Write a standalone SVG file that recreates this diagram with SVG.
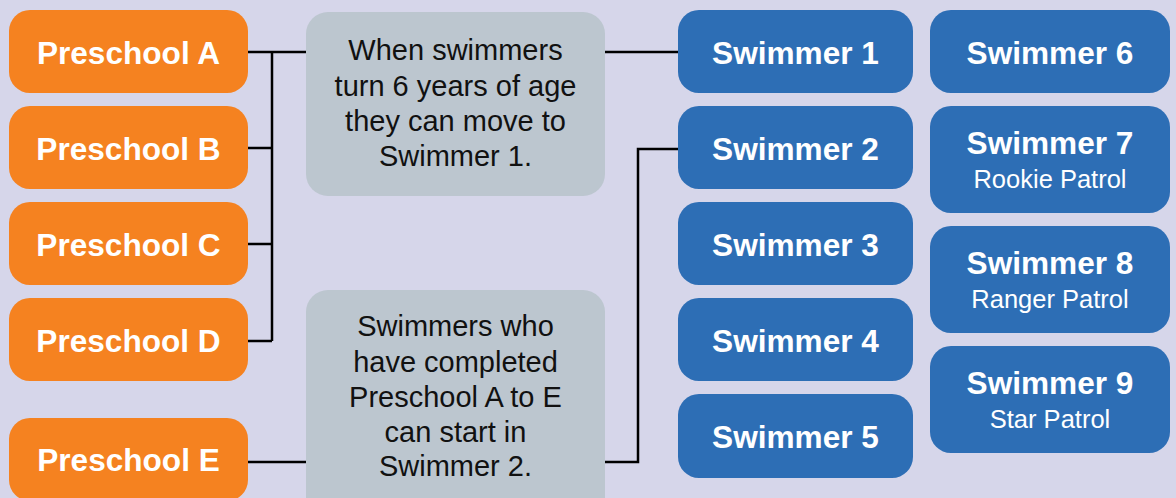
<svg xmlns="http://www.w3.org/2000/svg" width="1176" height="498" viewBox="0 0 1176 498">
<style>
.bg{fill:#D6D6EA}
.pre{fill:#F58220}
.swm{fill:#2D6EB5}
.note{fill:#BCC6CF}
.t{font-family:"Liberation Sans",Arial,Helvetica,sans-serif;text-anchor:middle}
.tb{font-weight:bold;font-size:31.6px;fill:#fff}
.ts{font-size:25.5px;fill:#fff}
.tn{font-size:29px;fill:#111}
.c{fill:none;stroke:#000;stroke-width:2.5}
</style>
<rect class="bg" x="0" y="0" width="1176" height="498"/>
<g id="connectors">
<path class="c" d="M248 52H306"/>
<path class="c" d="M272 52V341"/>
<path class="c" d="M248 148H272M248 244H272M248 341H272"/>
<path class="c" d="M248 462H306"/>
<path class="c" d="M605 52H678"/>
<path class="c" d="M605 462H638V149H678"/>
</g>
<g id="preschoolA"><rect class="pre" x="9" y="10" width="239" height="83" rx="21"/><text class="t tb" x="128.5" y="64">Preschool A</text></g>
<g id="preschoolB"><rect class="pre" x="9" y="106" width="239" height="83" rx="21"/><text class="t tb" x="128.5" y="160">Preschool B</text></g>
<g id="preschoolC"><rect class="pre" x="9" y="202" width="239" height="83" rx="21"/><text class="t tb" x="128.5" y="256">Preschool C</text></g>
<g id="preschoolD"><rect class="pre" x="9" y="298" width="239" height="83" rx="21"/><text class="t tb" x="128.5" y="352">Preschool D</text></g>
<g id="preschoolE"><rect class="pre" x="9" y="418" width="239" height="83" rx="21"/><text class="t tb" x="128.5" y="471">Preschool E</text></g>
<g id="note1"><rect class="note" x="306" y="12" width="299" height="184" rx="22"/>
<text class="t tn" x="455.5" y="60">When swimmers</text>
<text class="t tn" x="455.5" y="95.5">turn 6 years of age</text>
<text class="t tn" x="455.5" y="131">they can move to</text>
<text class="t tn" x="455.5" y="166">Swimmer 1.</text></g>
<g id="note2"><rect class="note" x="306" y="290" width="299" height="230" rx="22"/>
<text class="t tn" x="455.5" y="336">Swimmers who</text>
<text class="t tn" x="455.5" y="371.5">have completed</text>
<text class="t tn" x="455.5" y="406.5">Preschool A to E</text>
<text class="t tn" x="455.5" y="441.5">can start in</text>
<text class="t tn" x="455.5" y="476">Swimmer 2.</text></g>
<g id="swimmer1"><rect class="swm" x="678" y="10" width="235" height="83" rx="21"/><text class="t tb" x="795.5" y="64">Swimmer 1</text></g>
<g id="swimmer2"><rect class="swm" x="678" y="106" width="235" height="83" rx="21"/><text class="t tb" x="795.5" y="160">Swimmer 2</text></g>
<g id="swimmer3"><rect class="swm" x="678" y="202" width="235" height="83" rx="21"/><text class="t tb" x="795.5" y="256">Swimmer 3</text></g>
<g id="swimmer4"><rect class="swm" x="678" y="298" width="235" height="83" rx="21"/><text class="t tb" x="795.5" y="352">Swimmer 4</text></g>
<g id="swimmer5"><rect class="swm" x="678" y="394" width="235" height="84" rx="21"/><text class="t tb" x="795.5" y="448">Swimmer 5</text></g>
<g id="swimmer6"><rect class="swm" x="930" y="10" width="240" height="83" rx="21"/><text class="t tb" x="1050" y="64">Swimmer 6</text></g>
<g id="swimmer7"><rect class="swm" x="930" y="106" width="240" height="107" rx="21"/><text class="t tb" x="1050" y="154">Swimmer 7</text><text class="t ts" x="1050" y="188">Rookie Patrol</text></g>
<g id="swimmer8"><rect class="swm" x="930" y="226" width="240" height="107" rx="21"/><text class="t tb" x="1050" y="274">Swimmer 8</text><text class="t ts" x="1050" y="308">Ranger Patrol</text></g>
<g id="swimmer9"><rect class="swm" x="930" y="346" width="240" height="107" rx="21"/><text class="t tb" x="1050" y="394">Swimmer 9</text><text class="t ts" x="1050" y="428">Star Patrol</text></g>
</svg>
